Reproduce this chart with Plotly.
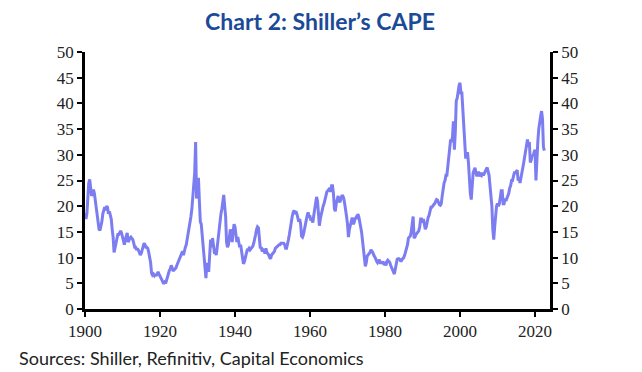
import plotly.graph_objects as go

# Shiller CAPE, quarterly readings (Q1..Q4)
cape_by_year = {
    1900: [18.7, 17.5, 18.5, 22.0],
    1901: [24.5, 25.2, 23.0, 22.0],
    1902: [22.5, 23.2, 22.5, 21.0],
    1903: [20.0, 18.0, 16.0, 15.5],
    1904: [15.3, 16.0, 17.0, 18.5],
    1905: [19.5, 19.8, 19.2, 20.0],
    1906: [19.8, 18.5, 19.0, 18.0],
    1907: [17.5, 15.5, 14.0, 11.0],
    1908: [12.0, 13.0, 13.5, 14.5],
    1909: [14.5, 15.0, 15.2, 14.8],
    1910: [14.0, 12.8, 12.5, 13.5],
    1911: [14.0, 14.8, 13.0, 13.5],
    1912: [13.8, 14.0, 13.8, 13.5],
    1913: [12.8, 12.0, 12.0, 11.5],
    1914: [11.8, 11.5, 11.0, 10.5],
    1915: [10.8, 11.5, 12.0, 12.8],
    1916: [12.5, 12.0, 12.0, 11.8],
    1917: [11.0, 10.0, 9.0, 7.0],
    1918: [6.6, 6.8, 6.5, 6.8],
    1919: [6.4, 6.9, 7.2, 6.8],
    1920: [6.4, 5.8, 5.5, 5.0],
    1921: [4.9, 5.2, 5.0, 5.6],
    1922: [6.3, 7.0, 7.5, 7.8],
    1923: [8.5, 8.0, 7.4, 7.6],
    1924: [7.8, 8.0, 8.5, 9.0],
    1925: [9.6, 10.0, 10.3, 11.0],
    1926: [11.2, 10.5, 11.5, 12.0],
    1927: [12.5, 13.5, 14.5, 15.5],
    1928: [16.5, 18.0, 19.5, 22.0],
    1929: [24.0, 26.5, 32.5, 21.5],
    1930: [22.5, 25.5, 21.0, 17.0],
    1931: [16.5, 14.5, 12.5, 9.5],
    1932: [8.5, 6.0, 9.0, 7.5],
    1933: [7.5, 11.0, 13.5, 12.0],
    1934: [13.8, 12.5, 11.0, 11.0],
    1935: [10.5, 12.0, 14.0, 15.5],
    1936: [17.5, 18.5, 19.5, 21.0],
    1937: [22.2, 20.0, 18.0, 13.0],
    1938: [12.0, 12.5, 15.0, 15.5],
    1939: [14.5, 13.0, 15.0, 16.5],
    1940: [16.0, 14.5, 13.0, 14.0],
    1941: [13.0, 12.0, 12.5, 11.0],
    1942: [9.5, 8.8, 9.2, 9.8],
    1943: [10.5, 11.5, 11.5, 11.8],
    1944: [11.5, 11.8, 12.0, 12.2],
    1945: [12.8, 13.5, 14.5, 15.5],
    1946: [16.0, 15.8, 13.0, 11.8],
    1947: [12.0, 11.2, 11.5, 11.3],
    1948: [10.8, 11.8, 11.0, 10.8],
    1949: [10.5, 10.0, 9.8, 10.5],
    1950: [10.8, 11.0, 11.2, 11.8],
    1951: [12.0, 12.2, 12.5, 12.5],
    1952: [12.5, 12.8, 12.8, 12.8],
    1953: [12.8, 12.5, 11.8, 11.8],
    1954: [12.5, 13.5, 14.5, 16.0],
    1955: [17.5, 18.0, 18.8, 19.2],
    1956: [18.5, 19.0, 18.5, 17.8],
    1957: [17.0, 17.5, 16.5, 14.2],
    1958: [14.0, 14.5, 15.5, 17.0],
    1959: [17.5, 18.2, 18.8, 18.0],
    1960: [18.0, 17.2, 17.5, 16.8],
    1961: [18.2, 19.5, 20.5, 21.8],
    1962: [21.0, 17.5, 16.2, 17.5],
    1963: [18.5, 19.5, 20.0, 20.5],
    1964: [21.5, 22.5, 22.8, 23.0],
    1965: [23.2, 23.5, 22.8, 24.0],
    1966: [24.0, 22.5, 19.5, 19.0],
    1967: [20.5, 21.5, 22.0, 21.0],
    1968: [20.8, 21.5, 22.0, 22.0],
    1969: [21.5, 20.5, 18.5, 18.0],
    1970: [16.5, 14.0, 15.5, 16.5],
    1971: [17.0, 17.8, 16.5, 16.8],
    1972: [17.5, 17.8, 17.5, 18.5],
    1973: [18.0, 16.5, 16.0, 15.0],
    1974: [13.5, 12.5, 10.0, 8.3],
    1975: [9.0, 10.3, 10.5, 10.8],
    1976: [11.0, 11.5, 11.3, 11.0],
    1977: [10.5, 10.2, 9.8, 9.3],
    1978: [9.0, 9.3, 9.6, 9.0],
    1979: [9.0, 9.0, 9.2, 8.6],
    1980: [8.8, 8.5, 9.2, 9.5],
    1981: [9.3, 9.1, 8.5, 8.0],
    1982: [7.5, 7.2, 6.8, 7.8],
    1983: [8.8, 9.7, 9.8, 9.8],
    1984: [9.6, 9.2, 9.6, 9.8],
    1985: [10.0, 10.5, 11.2, 11.5],
    1986: [12.5, 13.8, 14.0, 14.2],
    1987: [15.0, 16.5, 18.0, 13.8],
    1988: [14.0, 14.5, 14.8, 15.0],
    1989: [15.2, 16.0, 17.5, 17.5],
    1990: [16.8, 17.5, 16.0, 15.5],
    1991: [16.0, 17.5, 17.8, 18.2],
    1992: [19.5, 19.8, 19.8, 20.2],
    1993: [20.3, 20.5, 21.0, 21.3],
    1994: [21.2, 20.5, 20.3, 20.2],
    1995: [20.5, 22.0, 23.5, 24.5],
    1996: [25.0, 26.0, 26.0, 28.0],
    1997: [28.5, 30.5, 33.0, 32.5],
    1998: [33.5, 36.5, 31.0, 34.5],
    1999: [40.5, 41.0, 42.5, 43.5],
    2000: [44.0, 42.0, 42.0, 38.5],
    2001: [36.0, 33.5, 29.5, 29.5],
    2002: [30.5, 28.5, 23.5, 22.5],
    2003: [21.3, 24.5, 26.5, 27.0],
    2004: [27.5, 26.5, 25.8, 26.5],
    2005: [26.5, 25.8, 26.2, 26.0],
    2006: [26.5, 26.0, 26.5, 27.0],
    2007: [27.2, 27.5, 26.5, 26.0],
    2008: [24.0, 22.5, 20.0, 15.5],
    2009: [13.5, 16.0, 19.0, 20.0],
    2010: [20.5, 20.0, 20.5, 22.0],
    2011: [23.0, 23.0, 20.5, 20.5],
    2012: [21.5, 21.0, 21.5, 21.8],
    2013: [22.5, 23.5, 24.0, 25.0],
    2014: [25.0, 25.8, 26.5, 26.5],
    2015: [26.8, 27.0, 25.0, 25.5],
    2016: [24.5, 25.8, 26.8, 27.5],
    2017: [28.5, 29.5, 30.5, 32.0],
    2018: [33.0, 31.5, 32.5, 28.5],
    2019: [29.0, 30.0, 29.8, 30.5],
    2020: [31.0, 25.0, 30.5, 32.5],
    2021: [35.0, 37.0, 37.5, 38.5],
    2022: [37.0, 31.5, 30.8],
}

x_ticks = [1900, 1920, 1940, 1960, 1980, 2000, 2020]
y_ticks = [0, 5, 10, 15, 20, 25, 30, 35, 40, 45, 50]

title_text = "Chart 2: Shiller\u2019s CAPE"
source_text = "Sources: Shiller, Refinitiv, Capital Economics"

dates, values = [], []
for yr, qs in cape_by_year.items():
    for i, v in enumerate(qs):
        dates.append(yr + i * 0.25)
        values.append(v)

# page body has an 8px margin, so figure is sized/offset to compensate
W, H = 634, 364
PL, PR, PT, PB = 77, 542, 44, 301  # plot area edges in figure pixels

line_color = "#7d7df2"
tick_font = dict(family="Liberation Serif, serif", size=17, color="#222222")
axis_common = dict(ticks="outside", ticklen=5, tickwidth=2, tickcolor="black",
                   showline=True, linewidth=2.5, linecolor="black",
                   showgrid=False, zeroline=False, tickfont=tick_font)

fig = go.Figure()
fig.add_trace(go.Scatter(x=dates, y=values, mode="lines",
                         line=dict(color=line_color, width=3),
                         hoverinfo="skip", showlegend=False))
fig.add_trace(go.Scatter(x=dates, y=values, mode="lines", yaxis="y2",
                         line=dict(color=line_color, width=0), opacity=0,
                         hoverinfo="skip", showlegend=False))

fig.update_layout(
    width=W, height=H,
    margin=dict(l=PL, r=W - PR, t=PT, b=H - PB),
    paper_bgcolor="white", plot_bgcolor="white",
    title=dict(text=f"<b>{title_text}</b>", x=312 / W, xref="container",
               y=1 - 14 / H, yref="container", yanchor="middle", xanchor="center",
               font=dict(family="Lato, sans-serif", size=23, color="#1b4a97")),
    xaxis=dict(range=[1900, 2024], tickvals=x_ticks, **axis_common),
    yaxis=dict(range=[0, 50], tickvals=y_ticks, **axis_common),
    yaxis2=dict(range=[0, 50], tickvals=y_ticks, overlaying="y", side="right",
                anchor="x", **axis_common),
    annotations=[dict(text=source_text, xref="paper", yref="paper",
                      x=(9 - PL) / (PR - PL), y=(PB - 350) / (PB - PT),
                      xanchor="left", yanchor="middle", showarrow=False,
                      font=dict(family="Lato, sans-serif", size=18, color="#222222"))],
)

fig.write_html("out.html")
